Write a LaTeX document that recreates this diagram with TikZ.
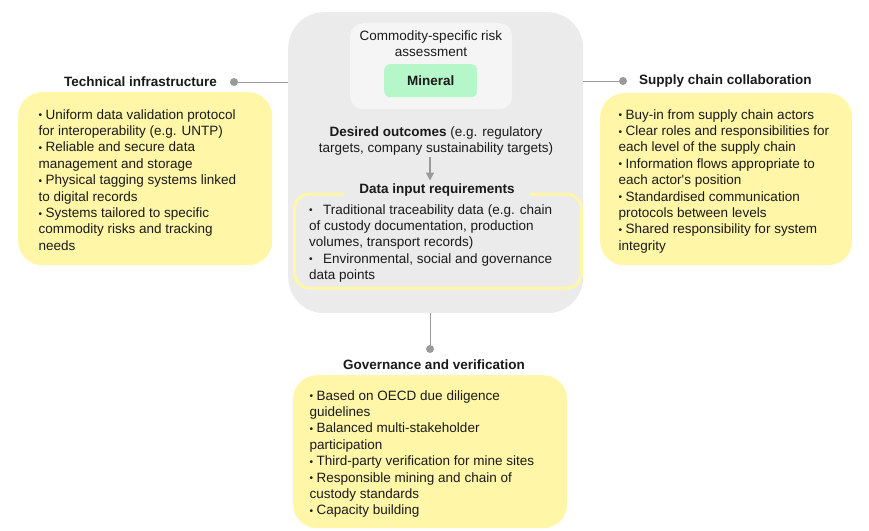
\documentclass[tikz,border=0pt]{standalone}
\usepackage{fontspec}
\setmainfont{Liberation Sans}
\newfontfamily\plainfont{Liberation Sans}
\usetikzlibrary{arrows.meta,calc}
\definecolor{boxgrey}{HTML}{EBEBEB}
\definecolor{innergrey}{HTML}{F5F5F5}
\definecolor{mineralgreen}{HTML}{B6F7CA}
\definecolor{yel}{HTML}{FFF6A8}
\definecolor{linegrey}{HTML}{9A9A9A}
\definecolor{txt}{HTML}{1A1A1A}
\newcommand{\bi}[1][7pt]{\par\hangindent=#1\hangafter=1\noindent\makebox[#1][l]{\raisebox{0.3pt}{\scalebox{0.75}{\textbullet}}}}
\newcommand{\blist}[2]{\parbox[t]{#1}{\raggedright\fontsize{13.5}{16.4}\selectfont #2}}
\tikzset{
  yelbox/.style={fill=yel, draw=none, rounded corners=24pt},
  dotnode/.style={circle, fill=linegrey, inner sep=0pt, minimum size=8pt},
  conn/.style={draw=linegrey, line width=1pt},
  heading/.style={font=\fontsize{13.5}{16}\selectfont\bfseries, text=txt, inner sep=0pt},
  listtext/.style={anchor=base west, inner sep=0pt, text=txt},
  ctext/.style={align=center, font=\fontsize{13.5}{15.5}\selectfont, text=txt, inner sep=0pt}
}
\begin{document}
\begin{tikzpicture}[x=1pt,y=-1pt]
\useasboundingbox (0,0) rectangle (869,530);
\fill[white] (0,0) rectangle (869,530);

% central grey box
\node[fill=boxgrey, rounded corners=36pt, minimum width=295pt, minimum height=301pt, inner sep=0pt, anchor=north west] (center) at (288,12) {};
% inner risk box
\node[fill=innergrey, rounded corners=13pt, minimum width=162pt, minimum height=86pt, inner sep=0pt, anchor=north west] (risk) at (350,23) {};
\node[ctext, anchor=base] (risktxt) at (431,56) {Commodity-specific risk\\assessment};
\node[fill=mineralgreen, rounded corners=6pt, minimum width=93pt, minimum height=33pt, inner sep=0pt, anchor=north west] (mineral) at (384,64) {};
\node[heading] (minlabel) at (mineral.center) {Mineral};

% desired outcomes
\node[ctext, anchor=base, font=\fontsize{13.5}{16}\selectfont] (desired) at (436,152.5) {\textbf{Desired outcomes} (e.g. regulatory\\targets, company sustainability targets)};

% data input box
\node[draw=yel, line width=3pt, rounded corners=15pt, minimum width=287pt, minimum height=94pt, inner sep=0pt, anchor=north west] (datain) at (293,192.5) {};
\node[heading, fill=boxgrey, inner xsep=15pt, inner ysep=3pt] (datatitle) at (437,190) {Data input requirements};
\draw[conn, line width=1.5pt, -{Triangle[length=8pt,width=8pt]}] (430,157) -- (datatitle.north -| 430,0);
\node[listtext] (datalist) at (309,214) {\blist{265pt}{%
\bi[14pt]Traditional traceability data (e.g. chain\\of custody documentation, production\\volumes, transport records)
\bi[14pt]Environmental, social and governance\\data points}};

% left
\node[yelbox, minimum width=254pt, minimum height=173pt, inner sep=0pt, anchor=north west] (leftbox) at (18,92) {};
\node[heading, anchor=east] (lefthead) at (217,82) {Technical infrastructure};
\node[dotnode] (ldot) at (234,82) {};
\draw[conn] (ldot) -- (ldot -| center.west);
\node[listtext] (leftlist) at (38.5,119) {\blist{230pt}{%
\bi Uniform data validation protocol\\for interoperability (e.g. UNTP)
\bi Reliable and secure data\\management and storage
\bi Physical tagging systems linked\\to digital records
\bi Systems tailored to specific\\commodity risks and tracking\\needs}};

% right
\node[yelbox, minimum width=252pt, minimum height=172pt, inner sep=0pt, anchor=north west] (rightbox) at (600,93) {};
\node[heading, anchor=west] (righthead) at (639,81) {Supply chain collaboration};
\node[dotnode] (rdot) at (623,81) {};
\draw[conn] (rdot) -- (rdot -| center.east);
\node[listtext] (rightlist) at (618.5,119) {\blist{230pt}{%
\bi Buy-in from supply chain actors
\bi Clear roles and responsibilities for\\each level of the supply chain
\bi Information flows appropriate to\\each actor{\plainfont '}s position
\bi Standardised communication\\protocols between levels
\bi Shared responsibility for system\\integrity}};

% bottom
\node[dotnode] (bdot) at (430,349) {};
\draw[conn] (bdot) -- (bdot |- center.south);
\node[heading] (bothead) at (434,365) {Governance and verification};
\node[yelbox, minimum width=274pt, minimum height=153pt, inner sep=0pt, anchor=north west] (botbox) at (293,375) {};
\node[listtext] (botlist) at (309.5,400) {\blist{250pt}{%
\bi Based on OECD due diligence\\guidelines
\bi Balanced multi-stakeholder\\participation
\bi Third-party verification for mine sites
\bi Responsible mining and chain of\\custody standards
\bi Capacity building}};
\end{tikzpicture}
\end{document}
